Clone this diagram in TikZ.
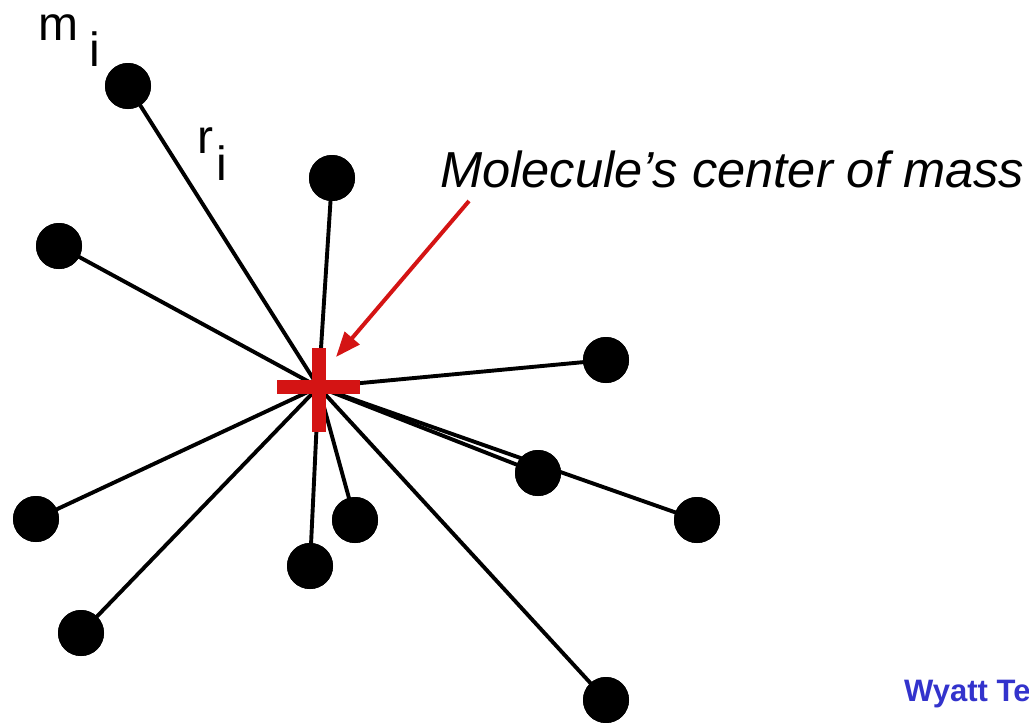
\documentclass[tikz,border=0pt]{standalone}
\usepackage{fontspec}
\setmainfont{Liberation Sans}
\usetikzlibrary{arrows.meta}
\definecolor{crossred}{RGB}{212,20,20}
\definecolor{logoblue}{RGB}{51,51,204}
\begin{document}
\begin{tikzpicture}[x=1pt,y=-1pt,
  atom/.style={circle,fill=black,inner sep=0pt,minimum size=46pt},
  bond/.style={line width=3.9pt,black},
  lbl/.style={inner sep=0pt,anchor=base west,font=\fontsize{48}{48}\selectfont},
  pointer/.style={line width=4pt,crossred,-{Triangle[length=25pt,width=19pt]}}]
\useasboundingbox (0,0) rectangle (1029,723);
% centre of mass
\coordinate (c) at (318.5,387);
% atoms
\node[atom] (d1) at (128,86) {};
\node[atom] (d2) at (332,178) {};
\node[atom] (d3) at (59,246) {};
\node[atom] (d4) at (606,360) {};
\node[atom] (d5) at (538,473) {};
\node[atom] (d6) at (697,520) {};
\node[atom] (d7) at (36,519) {};
\node[atom] (d8) at (355,520) {};
\node[atom] (d9) at (310,566) {};
\node[atom] (d10) at (81,633) {};
\node[atom] (d11) at (606,700) {};
% bonds to the centre
\foreach \n in {d1,d2,d3,d4,d5,d6,d7,d8,d9,d10,d11}
  \draw[bond] (c) -- (\n.center);
% redraw atoms over the bonds
\foreach \p in {{128,86},{332,178},{59,246},{606,360},{538,473},{697,520},{36,519},{355,520},{310,566},{81,633},{606,700}}
  \fill (\p) circle (23pt);
% centre-of-mass cross
\fill[crossred] (311.5,348) rectangle (325.5,432);
\fill[crossred] (277,380) rectangle (360,394);
% labels
\node[lbl] (m) at (38,40) {m};
\node[lbl] (mi) at (89,66) {i};
\node[lbl] (r) at (197,153) {r};
\node[lbl] (ri) at (216,180) {i};
\node[inner sep=0pt,anchor=base west,font=\fontsize{50.6}{50.6}\selectfont\itshape] (com) at (440,187) {Molecule’s center of mass};
\coordinate (tail) at (469,201);
\coordinate (tip) at (336,357);
\draw[pointer] (tail) -- (tip);
\node[inner sep=0pt,anchor=base west,text=logoblue,font=\fontsize{31}{31}\selectfont\bfseries] (logo) at (904,701) {Wyatt Technology};
\end{tikzpicture}
\end{document}
